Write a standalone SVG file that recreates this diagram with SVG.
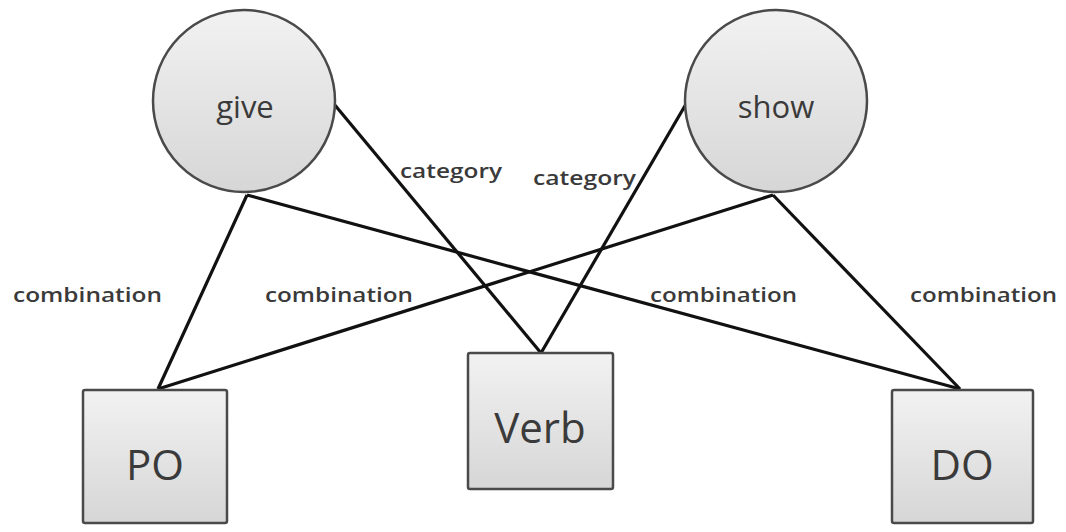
<svg xmlns="http://www.w3.org/2000/svg" width="1066" height="532" viewBox="0 0 1066 532">
<defs>
<linearGradient id="g" x1="0" y1="0" x2="0" y2="1">
<stop offset="0" stop-color="#f2f2f2"/>
<stop offset="1" stop-color="#d6d6d6"/>
</linearGradient>
<style>
.n{fill:url(#g);stroke:#4a4a4a;stroke-width:2.5}
.e{stroke:#111;stroke-width:3.2;fill:none}
.t{font-family:"Open Sans","Liberation Sans",sans-serif;fill:#3a3a3a}
.lbl{font-size:20px;font-weight:600}
</style>
</defs>
<rect width="1066" height="532" fill="#fff"/>
<g id="connectors">
<line class="e" x1="247" y1="195" x2="158" y2="389"/>
<line class="e" x1="247" y1="195" x2="960" y2="389"/>
<line class="e" x1="334" y1="104" x2="541" y2="353"/>
<line class="e" x1="686" y1="104" x2="541" y2="353"/>
<line class="e" x1="773" y1="195" x2="158" y2="389"/>
<line class="e" x1="773" y1="195" x2="960" y2="389"/>
</g>
<g id="labels">
<text class="t lbl" x="13" y="302" textLength="149" lengthAdjust="spacingAndGlyphs">combination</text>
<text class="t lbl" x="265" y="302" textLength="148" lengthAdjust="spacingAndGlyphs">combination</text>
<text class="t lbl" x="650" y="302" textLength="147" lengthAdjust="spacingAndGlyphs">combination</text>
<text class="t lbl" x="910" y="302" textLength="147" lengthAdjust="spacingAndGlyphs">combination</text>
<text class="t lbl" x="400" y="178" textLength="102" lengthAdjust="spacingAndGlyphs">category</text>
<text class="t lbl" x="533" y="185" textLength="103" lengthAdjust="spacingAndGlyphs">category</text>
</g>
<g id="give">
<circle class="n" cx="244" cy="101" r="91"/>
<text class="t" x="245" y="118" font-size="31" text-anchor="middle">give</text>
</g>
<g id="show">
<circle class="n" cx="776" cy="101" r="91"/>
<text class="t" x="776" y="118" font-size="31" text-anchor="middle">show</text>
</g>
<g id="PO">
<rect class="n" x="83" y="390" width="144" height="133" rx="2"/>
<text class="t" x="155" y="480" font-size="42" text-anchor="middle">PO</text>
</g>
<g id="Verb">
<rect class="n" x="468" y="353" width="145" height="136" rx="2"/>
<text class="t" x="540" y="443" font-size="42" text-anchor="middle">Verb</text>
</g>
<g id="DO">
<rect class="n" x="892" y="390" width="141" height="133" rx="2"/>
<text class="t" x="962" y="480" font-size="42" text-anchor="middle">DO</text>
</g>
</svg>
